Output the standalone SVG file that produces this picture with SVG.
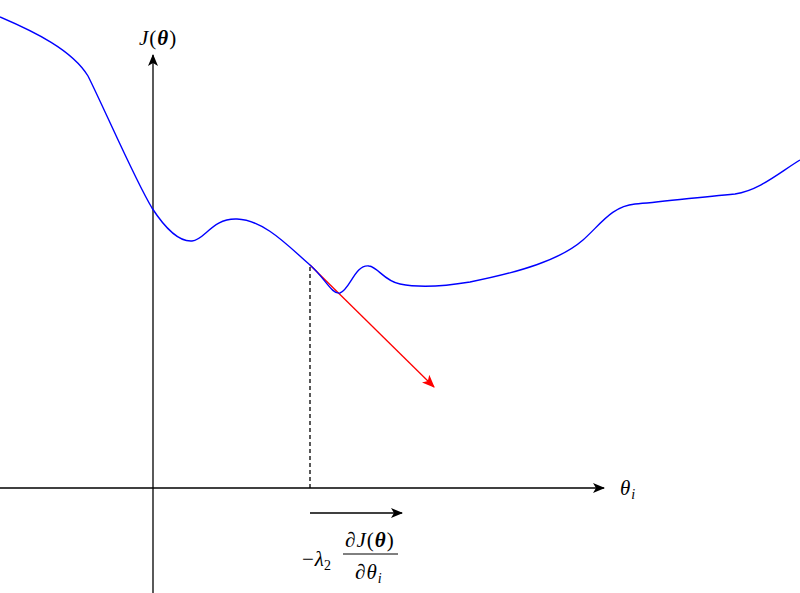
<svg xmlns="http://www.w3.org/2000/svg" width="800" height="593" viewBox="0 0 800 593">
<defs>
<style>
.ax{stroke:#000;stroke-width:1.3;fill:none}
.m{font-family:"Liberation Serif","DejaVu Serif",serif;font-size:21px;fill:#000;letter-spacing:1px}
.i{font-style:italic}
.b{font-weight:bold}
</style>
<marker id="ah" viewBox="0 0 12 10" refX="11" refY="5" markerWidth="12" markerHeight="10" markerUnits="userSpaceOnUse" orient="auto">
<path d="M0,0 L12,5 L0,10 L3,5 Z" fill="#000"/>
</marker>
<marker id="ahr" viewBox="0 0 12 10" refX="11" refY="5" markerWidth="13" markerHeight="11" markerUnits="userSpaceOnUse" orient="auto">
<path d="M0,0 L12,5 L0,10 L3,5 Z" fill="#f00"/>
</marker>
</defs>
<rect width="800" height="593" fill="#fff"/>
<g id="connectors">
<line class="ax" x1="0" y1="488" x2="604" y2="488" marker-end="url(#ah)"/>
<line class="ax" x1="153" y1="593" x2="153" y2="55" marker-end="url(#ah)"/>
<line class="ax" x1="310" y1="513" x2="402" y2="513" marker-end="url(#ah)"/>
<line x1="310" y1="267" x2="310" y2="488" stroke="#000" stroke-width="1.3" stroke-dasharray="4,3"/>
<line x1="310" y1="265" x2="434" y2="387" stroke="#f00" stroke-width="1.3" marker-end="url(#ahr)"/>
</g>
<g id="curve">
<path d="M0,17 C35,32 72,50 88,76 C105,110 135,180 152,208 C165,228 178,242 192,241 C205,240 212,218 237,219 C265,220 290,248 310,265 C325,278 332,295 340,293 C350,290 355,264 369,266 C378,267 384,281 400,284 C415,287 440,287 470,282 C520,272 560,260 583,240 C600,225 612,206 635,204 C660,202 700,197 735,194 C760,190 780,172 800,160" fill="none" stroke="#00f" stroke-width="1.4"/>
</g>
<g id="label-J">
<text class="m" x="139" y="45"><tspan class="i">J</tspan>(<tspan class="i b">θ</tspan>)</text>
</g>
<g id="label-theta">
<text class="m" x="620" y="495"><tspan class="i">θ</tspan><tspan class="i" font-size="14" dy="4">i</tspan></text>
</g>
<g id="label-grad">
<text class="m" x="302" y="566" letter-spacing="4">−<tspan class="i" letter-spacing="0">λ</tspan><tspan font-size="14" dy="4">2</tspan></text>
<text class="m" x="345" y="547">∂<tspan class="i">J</tspan>(<tspan class="i b">θ</tspan>)</text>
<line x1="343" y1="554" x2="398" y2="554" stroke="#000" stroke-width="1"/>
<text class="m" x="355" y="579">∂<tspan class="i">θ</tspan><tspan class="i" font-size="14" dy="4">i</tspan></text>
</g>
</svg>
